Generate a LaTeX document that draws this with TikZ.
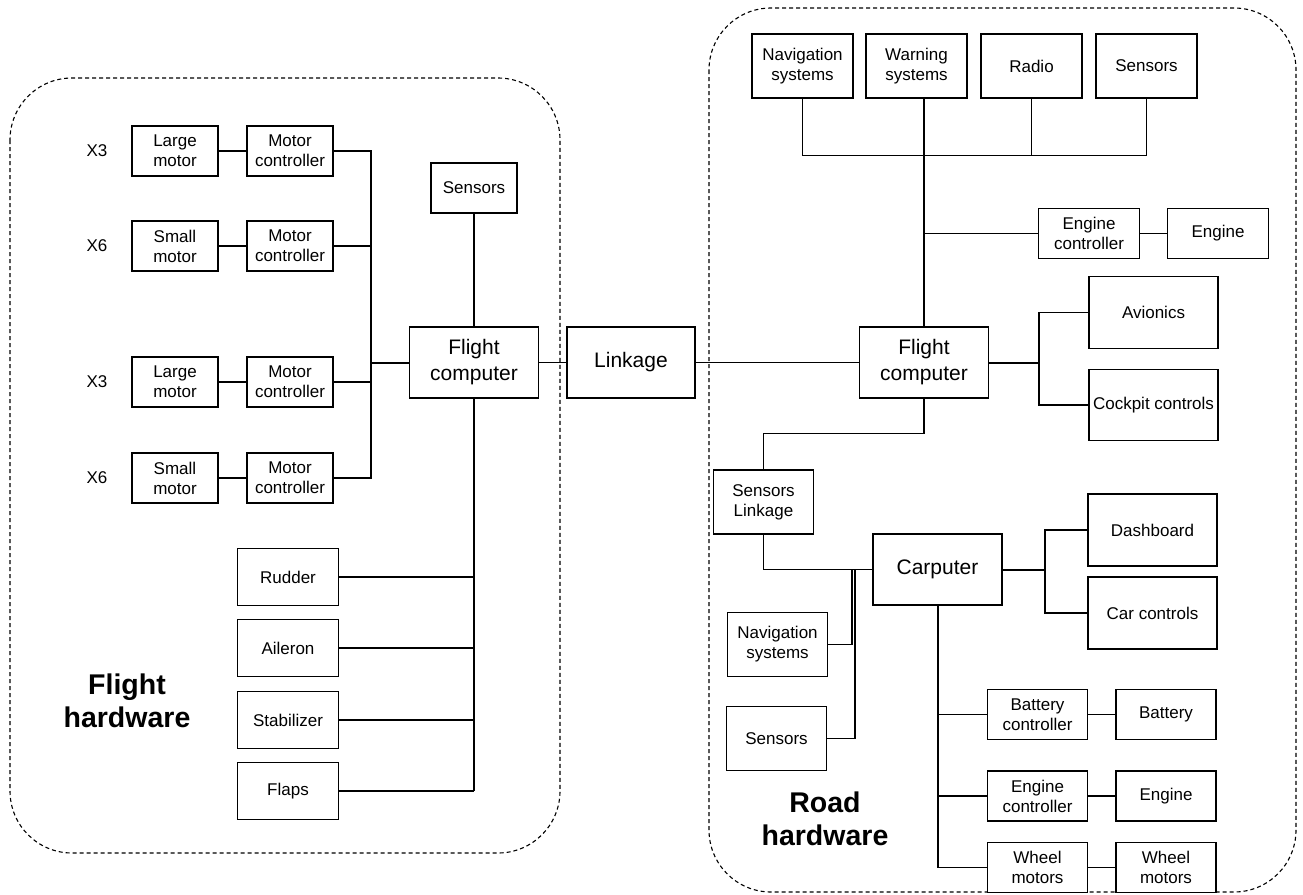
\documentclass[tikz,border=0pt]{standalone}
\usepackage{fontspec}
\setmainfont{Liberation Sans}
\begin{document}
\begin{tikzpicture}[x=1pt,y=-1pt,
  box/.style={draw=black, line width=1.3pt, align=center, inner sep=0pt, fill=white,
    font=\fontsize{17}{20}\selectfont},
  bigbox/.style={box, font=\fontsize{21}{26}\selectfont},
  wire/.style={line width=1.3pt},
  bus/.style={line width=2pt},
  grp/.style={draw=black, line width=1.1pt, dash pattern=on 4pt off 3pt, rounded corners=62pt},
  glabel/.style={align=center, font=\fontsize{28.5}{33}\selectfont\bfseries},
  mult/.style={font=\fontsize{17}{20}\selectfont}]
\useasboundingbox (0,0) rectangle (1303,894);
\fill[white] (0,0) rectangle (1303,894);

% group containers
\draw[grp] (10,78) rectangle (560,853);
\draw[grp] (709,8) rectangle (1296,892);

% ---------- Flight hardware ----------
\node[mult] (x1) at (97,151) {X3};
\node[mult] (x2) at (97,246) {X6};
\node[mult] (x3) at (97,382) {X3};
\node[mult] (x4) at (97,478) {X6};

\node[box, minimum width=86pt, minimum height=50pt] (lm1) at (175,151) {Large\\motor};
\node[box, minimum width=86pt, minimum height=50pt] (mc1) at (290,151) {Motor\\controller};
\node[box, minimum width=86pt, minimum height=50pt] (sm1) at (175,246) {Small\\motor};
\node[box, minimum width=86pt, minimum height=50pt] (mc2) at (290,246) {Motor\\controller};
\node[box, minimum width=86pt, minimum height=50pt] (lm2) at (175,382) {Large\\motor};
\node[box, minimum width=86pt, minimum height=50pt] (mc3) at (290,382) {Motor\\controller};
\node[box, minimum width=86pt, minimum height=50pt] (sm2) at (175,478) {Small\\motor};
\node[box, minimum width=86pt, minimum height=50pt] (mc4) at (290,478) {Motor\\controller};

\node[box, minimum width=86pt, minimum height=50pt] (sensL) at (474,188) {Sensors};
\node[bigbox, minimum width=129pt, minimum height=71pt] (fcL) at (474,362.5) {Flight\\computer};
\node[bigbox, minimum width=128pt, minimum height=71pt] (link) at (631,362.5) {Linkage};

\node[box, minimum width=101pt, minimum height=57pt] (rud) at (288,577) {Rudder};
\node[box, minimum width=101pt, minimum height=57pt] (ail) at (288,648) {Aileron};
\node[box, minimum width=101pt, minimum height=57pt] (stab) at (288,720) {Stabilizer};
\node[box, minimum width=101pt, minimum height=57pt] (flap) at (288,791) {Flaps};

\node[glabel] (fhw) at (127,701) {Flight\\hardware};

\coordinate (jl) at (371,362.5);
\draw[wire] (lm1) -- (mc1);
\draw[wire] (sm1) -- (mc2);
\draw[wire] (lm2) -- (mc3);
\draw[wire] (sm2) -- (mc4);
\draw[wire] (mc1.east) -| (jl);
\draw[wire] (mc2.east) -| (jl);
\draw[wire] (mc3.east) -| (jl);
\draw[wire] (mc4.east) -| (jl);
\draw[bus] (jl) -- (fcL.west);
\draw[wire] (sensL.south) -- (fcL.north);
\draw[bus] (fcL.south) -- (fcL.south |- flap.east);
\draw[wire] (rud.east) -- (rud.east -| fcL.south);
\draw[wire] (ail.east) -- (ail.east -| fcL.south);
\draw[wire] (stab.east) -- (stab.east -| fcL.south);
\draw[wire] (flap.east) -- (flap.east -| fcL.south);
\draw[wire] (fcL.east) -- (link.west);

% ---------- Road hardware ----------
\node[box, minimum width=101pt, minimum height=64pt] (navT) at (802.5,66) {Navigation\\systems};
\node[box, minimum width=101pt, minimum height=64pt] (warn) at (916.5,66) {Warning\\systems};
\node[box, minimum width=101pt, minimum height=64pt] (radio) at (1031.5,66) {Radio};
\node[box, minimum width=101pt, minimum height=64pt] (sensT) at (1146.5,66) {Sensors};

\node[box, minimum width=101pt, minimum height=50pt] (engc1) at (1089,233.5) {Engine\\controller};
\node[box, minimum width=101pt, minimum height=50pt] (eng1) at (1218,233.5) {Engine};

\node[bigbox, minimum width=129pt, minimum height=71pt] (fcR) at (924,362.5) {Flight\\computer};
\node[box, minimum width=129pt, minimum height=72pt] (avi) at (1153.5,312.5) {Avionics};
\node[box, minimum width=129pt, minimum height=71pt] (cock) at (1153.5,405) {Cockpit controls};

\node[box, minimum width=100pt, minimum height=64pt] (sl) at (763.5,502) {Sensors\\Linkage};
\node[bigbox, minimum width=129pt, minimum height=71pt] (car) at (937.5,569.5) {Carputer};
\node[box, minimum width=100pt, minimum height=64pt] (navR) at (777.5,644.5) {Navigation\\systems};
\node[box, minimum width=100pt, minimum height=64pt] (sensR) at (776.5,738.5) {Sensors};

\node[box, minimum width=129pt, minimum height=72pt] (dash) at (1152.5,530) {Dashboard};
\node[box, minimum width=129pt, minimum height=72pt] (carc) at (1152.5,613) {Car controls};

\node[box, minimum width=100pt, minimum height=50pt] (batc) at (1037.5,714.5) {Battery\\controller};
\node[box, minimum width=100pt, minimum height=50pt] (bat) at (1166,714.5) {Battery};
\node[box, minimum width=100pt, minimum height=50pt] (engc2) at (1037.5,796) {Engine\\controller};
\node[box, minimum width=100pt, minimum height=50pt] (eng2) at (1166,796) {Engine};
\node[box, minimum width=100pt, minimum height=50pt] (wm1) at (1037.5,867.5) {Wheel\\motors};
\node[box, minimum width=100pt, minimum height=50pt] (wm2) at (1166,867.5) {Wheel\\motors};

\node[glabel] (rhw) at (825,819) {Road\\hardware};

% connectors road
\draw[wire] (link.east) -- (fcR.west);
\coordinate (busT) at (924,155.5);
\draw[wire] (navT.south) |- (busT);
\draw[wire] (busT) -| (sensT.south);
\draw[wire] (radio.south) -- (radio.south |- busT);
\draw[wire] (fcR.north |- warn.south) -- (busT);
\draw[bus] (busT) -- (fcR.north);
\draw[wire] (fcR.north |- engc1.west) -- (engc1.west);
\draw[wire] (engc1) -- (eng1);

\coordinate (jr) at (1039,362.5);
\draw[bus] (fcR.east) -- (jr);
\draw[wire] (avi.west) -| (jr);
\draw[wire] (cock.west) -| (jr);

\coordinate (kr) at (924,433.5);
\draw[wire] (fcR.south) -- (kr) -| (sl.north);
\draw[wire] (sl.south) |- (car.west);
\coordinate (jn) at (852,569.5);
\coordinate (js) at (855,569.5);
\draw[wire] (navR.east) -| (jn);
\draw[wire] (sensR.east) -| (js);

\coordinate (jc) at (1045,569.5);
\draw[bus] (car.east) -- (jc);
\draw[wire] (dash.west) -| (jc);
\draw[wire] (carc.west) -| (jc);

\draw[bus] (car.south) -- (car.south |- wm1.west);
\draw[wire] (batc.west) -- (batc.west -| car.south);
\draw[wire] (engc2.west) -- (engc2.west -| car.south);
\draw[wire] (wm1.west) -- (wm1.west -| car.south);
\draw[wire] (batc) -- (bat);
\draw[wire] (engc2) -- (eng2);
\draw[wire] (wm1) -- (wm2);
\end{tikzpicture}
\end{document}
